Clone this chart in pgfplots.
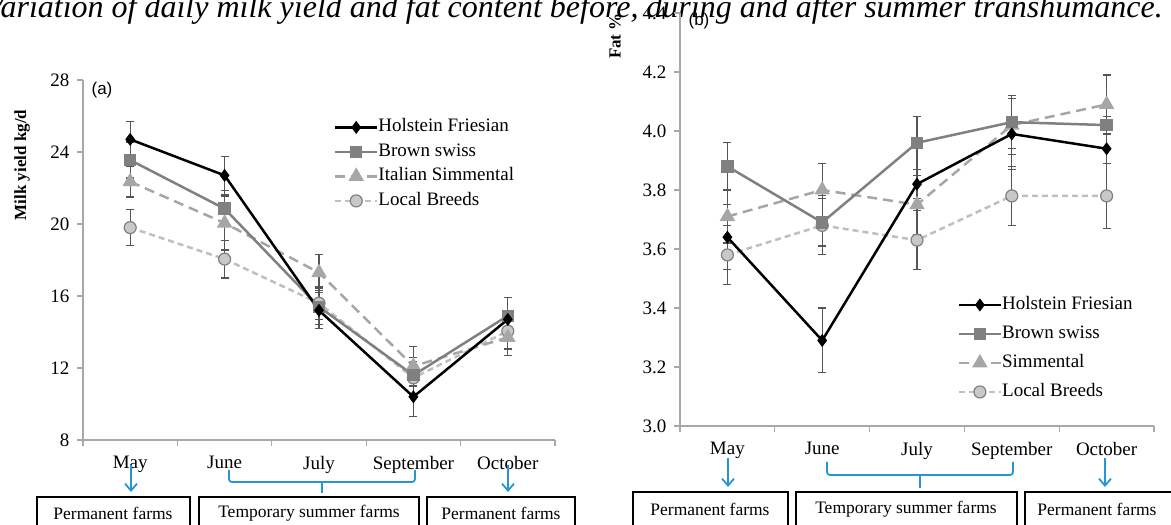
\documentclass[border=0pt]{standalone}
\usepackage{pgfplots}
\pgfplotsset{compat=1.18}
\usepackage{pgfplotstable}
\usepackage{fontspec}
\setmainfont{Liberation Serif}
\newfontfamily\sansf{Liberation Sans}
\usetikzlibrary{arrows.meta}

\definecolor{bsw}{HTML}{808080}
\definecolor{sim}{HTML}{A6A6A6}
\definecolor{loc}{HTML}{BFBFBF}
\definecolor{locfill}{HTML}{C8C8C8}
\definecolor{errc}{HTML}{555555}
\definecolor{axc}{HTML}{A8A8A8}
\definecolor{arrc}{HTML}{2596D4}

% x  y  err
\pgfplotstableread{
x y e
1 24.7 1.0
2 22.7 1.05
3 15.2 1.0
4 10.4 1.1
5 14.7 1.2
}\milkHF
\pgfplotstableread{
x y e
1 23.55 1.0
2 20.85 1.0
3 15.4 1.0
4 11.6 1.0
5 14.9 1.0
}\milkBS
\pgfplotstableread{
x y e
1 22.35 0.85
2 20.05 1.5
3 17.3 1.0
4 12.1 1.1
5 13.7 1.0
}\milkSI
\pgfplotstableread{
x y e
1 19.8 1.0
2 18.05 1.05
3 15.6 0.9
4 11.45 0.9
5 14.05 1.0
}\milkLB
\pgfplotstableread{
x y e
1 3.64 0.11
2 3.29 0.11
3 3.82 0.05
4 3.99 0.12
5 3.94 0.05
}\fatHF
\pgfplotstableread{
x y e
1 3.88 0.08
2 3.69 0.08
3 3.96 0.09
4 4.03 0.09
5 4.02 0.03
}\fatBS
\pgfplotstableread{
x y e
1 3.71 0.09
2 3.80 0.09
3 3.75 0.10
4 4.02 0.10
5 4.09 0.10
}\fatSI
\pgfplotstableread{
x y e
1 3.58 0.10
2 3.68 0.10
3 3.63 0.10
4 3.78 0.10
5 3.78 0.11
}\fatLB

\pgfplotsset{
  panel/.style={
    scale only axis, clip=false,
    xmin=0.5, xmax=5.5,
    axis x line*=bottom, axis y line*=left,
    axis line style={axc, line width=1.3pt, -},
    every tick/.style={axc, line width=1.3pt},
    tick align=outside, major tick length=6pt,
    xtick={0.5,1.5,2.5,3.5,4.5,5.5}, xticklabels={},
    extra x ticks={1,2,3,4,5},
    extra x tick labels={May,June,July,September,October},
    extra x tick style={major tick length=0pt, xticklabel style={yshift=-13pt}},
    ticklabel style={font=\fontsize{19}{22}\selectfont},
    /pgf/number format/assume math mode=true,
    yticklabel style={xshift=-4pt},
    reverse legend,
    legend cell align=left,
    legend style={draw=none, fill=none, font=\fontsize{19}{22}\selectfont,
      row sep=7.5pt,
      nodes={inner sep=0pt, text height=13pt, text depth=4pt}},
  },
  errs/.style={error bars/.cd, y dir=both, y explicit,
    error bar style={errc, line width=1.2pt, solid},
    error mark options={errc, line width=1.2pt, mark size=4pt, solid, rotate=90}},
  sHF/.style={black, line width=2.5pt, mark=diamond*, mark size=4.5pt, mark options={solid, fill=black}},
  sBS/.style={bsw, line width=2.5pt, mark=square*, mark size=5pt, mark options={solid, fill=bsw}},
  sSI/.style={sim, line width=2.5pt, dash pattern=on 10pt off 6pt, mark=triangle*, mark size=6.5pt, mark options={solid, fill=sim}},
  sLB/.style={loc, line width=2.5pt, dash pattern=on 6pt off 4pt, mark=*, mark size=6pt, mark options={solid, fill=locfill, draw=bsw, line width=1.2pt}},
}

\begin{document}
\begin{tikzpicture}[x=1pt,y=1pt]
\begin{scope}
\clip (0,0) rectangle (1171,525);

% title (cropped at the top)
\node[anchor=base east, inner sep=0pt, font=\itshape\fontsize{32}{36}\selectfont] at (1163,507)
  {Variation of daily milk yield and fat content before, during and after summer transhumance.};

% ---------- panel (a)
\begin{axis}[panel, at={(83pt,85pt)}, anchor=south west, width=472pt, height=360pt,
  ymin=8, ymax=28, ytick={8,12,16,20,24,28},
  legend image code/.code={\draw[mark repeat=2,mark phase=2,#1] plot coordinates {(0pt,0pt) (21pt,0pt) (42pt,0pt)};},
  legend style={at={(0.525,0.898)}, anchor=north west}]
\addplot[sLB, errs] table[x=x, y=y, y error=e] {\milkLB};
\addlegendentry{Local Breeds}
\addplot[sSI, errs] table[x=x, y=y, y error=e] {\milkSI};
\addlegendentry{Italian Simmental}
\addplot[sBS, errs] table[x=x, y=y, y error=e] {\milkBS};
\addlegendentry{Brown swiss}
\addplot[sHF, errs] table[x=x, y=y, y error=e] {\milkHF};
\addlegendentry{Holstein Friesian}
\end{axis}

% ---------- panel (b)
\begin{axis}[panel, at={(680pt,99pt)}, anchor=south west, width=474pt, height=413pt,
  ymin=3.0, ymax=4.4, ytick={3.0,3.2,3.4,3.6,3.8,4.0,4.2,4.4},
  yticklabel style={/pgf/number format/.cd, fixed, fixed zerofill, precision=1},
  legend image code/.code={\draw[mark repeat=2,mark phase=2,#1] plot coordinates {(0pt,0pt) (21pt,0pt) (42pt,0pt)};},
  legend style={at={(0.579,0.319)}, anchor=north west, row sep=12pt}]
\addplot[sLB, errs] table[x=x, y=y, y error=e] {\fatLB};
\addlegendentry{Local Breeds}
\addplot[sSI, errs] table[x=x, y=y, y error=e] {\fatSI};
\addlegendentry{Simmental}
\addplot[sBS, errs] table[x=x, y=y, y error=e] {\fatBS};
\addlegendentry{Brown swiss}
\addplot[sHF, errs] table[x=x, y=y, y error=e] {\fatHF};
\addlegendentry{Holstein Friesian}
\end{axis}

% axis titles and panel letters
\node[rotate=90, font=\bfseries\fontsize{17}{20}\selectfont] at (22,360) {Milk yield kg/d};
\node[rotate=90, font=\bfseries\fontsize{17}{20}\selectfont] at (615,489) {Fat \%};
\node[font=\sansf\fontsize{17}{20}\selectfont] at (102,435) {(a)};
\node[font=\sansf\fontsize{17}{20}\selectfont] at (699,504) {(b)};

% arrows, braces and boxes
\begin{scope}[arrc, line width=1.8pt]
\draw[-{Straight Barb[length=7pt,width=12pt]}] (131,60) -- (131,33);
\draw[rounded corners=3pt] (229,55) -- (229,43) -- (415,43) -- (415,55);
\draw (322,43) -- (322,32);
\draw[-{Straight Barb[length=7pt,width=12pt]}] (508,60) -- (508,33);
\draw[-{Straight Barb[length=7pt,width=12pt]}] (728,67) -- (728,38);
\draw[rounded corners=3pt] (827,63) -- (827,50) -- (1013,50) -- (1013,63);
\draw (920,50) -- (920,37);
\draw[-{Straight Barb[length=7pt,width=12pt]}] (1105,67) -- (1105,38);
\end{scope}
\begin{scope}[line width=1.6pt]
\draw (37,28) rectangle (190,-5);
\draw (199,28) rectangle (419,-5);
\draw (427,28) rectangle (575,-5);
\draw (633,33) rectangle (788,-5);
\draw (796,33) rectangle (1017,-5);
\draw (1025,33) rectangle (1185,-5);
\end{scope}
\begin{scope}[every node/.style={font=\fontsize{17.5}{20}\selectfont}]
\node at (113,12) {Permanent farms};
\node at (309,12) {Temporary summer farms};
\node at (501,12) {Permanent farms};
\node at (710,16) {Permanent farms};
\node at (906,16) {Temporary summer farms};
\node at (1097,16) {Permanent farms};
\end{scope}
\end{scope}
\pgfresetboundingbox
\useasboundingbox (0,0) rectangle (1171,525);
\end{tikzpicture}
\end{document}
